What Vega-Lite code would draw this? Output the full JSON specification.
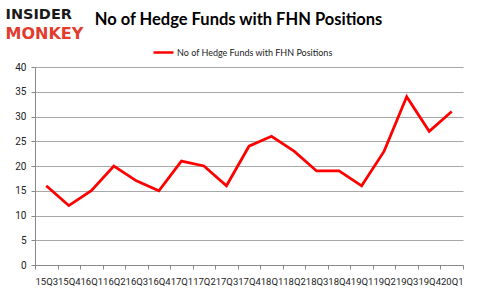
{
  "$schema": "https://vega.github.io/schema/vega-lite/v6.json",
  "background": "white",
  "padding": {"left": 5, "top": 5, "right": 0, "bottom": 0},
  "spacing": -2,
  "resolve": {"scale": {"color": "independent"}, "legend": {"color": "independent"}},
  "config": {"view": {"stroke": null}},
  "vconcat": [
    {
      "hconcat": [
        {
          "width": 54,
          "height": 38,
          "data": {"values": [{"word": "INSIDER"}, {"word": "MONKEY"}]},
          "mark": {"type": "point", "opacity": 0},
          "encoding": {
            "y": {
              "field": "word", "type": "nominal", "sort": null, "scale": {"padding": 0.55},
              "axis": {"title": null, "domain": false, "ticks": false, "tickSize": 0, "labelPadding": 30, "labelAlign": "left", "labelBaseline": "middle", "labelFont": "DejaVu Sans", "labelFontWeight": "bold", "labelLimit": 0,
                "labelFontSize": {"condition": {"test": "datum.value === 'MONKEY'", "value": 16}, "value": 14.5},
                "labelColor": {"condition": {"test": "datum.value === 'MONKEY'", "value": "#e33b2e"}, "value": "#1a1a1a"}}
            }
          }
        },
        {
          "width": 299,
          "height": 38,
          "data": {"values": [{"t": "No of Hedge Funds with FHN Positions"}]},
          "mark": {"type": "text", "font": "Lato", "fontWeight": "bold", "fontSize": 16.5, "align": "center", "baseline": "middle", "dy": -4, "color": "#000000"},
          "encoding": {"text": {"field": "t"}}
        }
      ],
      "spacing": 0
    },
    {
      "width": 428,
      "height": 198,
      "data": {"values": [
        {"q": "15Q3", "v": 16}, {"q": "15Q4", "v": 12}, {"q": "16Q1", "v": 15}, {"q": "16Q2", "v": 20},
        {"q": "16Q3", "v": 17}, {"q": "16Q4", "v": 15}, {"q": "17Q1", "v": 21}, {"q": "17Q2", "v": 20},
        {"q": "17Q3", "v": 16}, {"q": "17Q4", "v": 24}, {"q": "18Q1", "v": 26}, {"q": "18Q2", "v": 23},
        {"q": "18Q3", "v": 19}, {"q": "18Q4", "v": 19}, {"q": "19Q1", "v": 16}, {"q": "19Q2", "v": 23},
        {"q": "19Q3", "v": 34}, {"q": "19Q4", "v": 27}, {"q": "20Q1", "v": 31}
      ]},
      "mark": {"type": "line", "strokeWidth": 2.75, "strokeJoin": "miter"},
      "encoding": {
        "x": {
          "field": "q", "type": "ordinal", "sort": null,
          "scale": {"type": "band", "paddingInner": 0, "paddingOuter": 0},
          "axis": {"title": null, "tickBand": "extent", "labelAngle": 0, "labelOverlap": false, "labelFont": "Roboto", "labelFontSize": 9.5, "labelColor": "#222", "tickSize": 4, "tickColor": "#888", "domainColor": "#888", "labelPadding": 7, "grid": false}
        },
        "y": {
          "field": "v", "type": "quantitative",
          "scale": {"domain": [0, 40]},
          "axis": {"title": null, "values": [0, 5, 10, 15, 20, 25, 30, 35, 40], "grid": true, "gridColor": "#a8a8a8", "domainColor": "#888", "tickColor": "#888", "tickSize": 4, "labelPadding": 5, "minExtent": 30, "labelFont": "Roboto", "labelFontSize": 10, "labelColor": "#222"}
        },
        "color": {
          "datum": "No of Hedge Funds with FHN Positions",
          "type": "nominal",
          "scale": {"range": ["#ff0000"]},
          "legend": {"title": null, "orient": "none", "legendX": 117, "legendY": -26, "symbolType": "stroke", "symbolSize": 400, "symbolStrokeWidth": 2.5, "labelOffset": 2, "labelFont": "Lato", "labelFontSize": 9, "labelColor": "#222", "labelLimit": 0}
        }
      }
    }
  ]
}
